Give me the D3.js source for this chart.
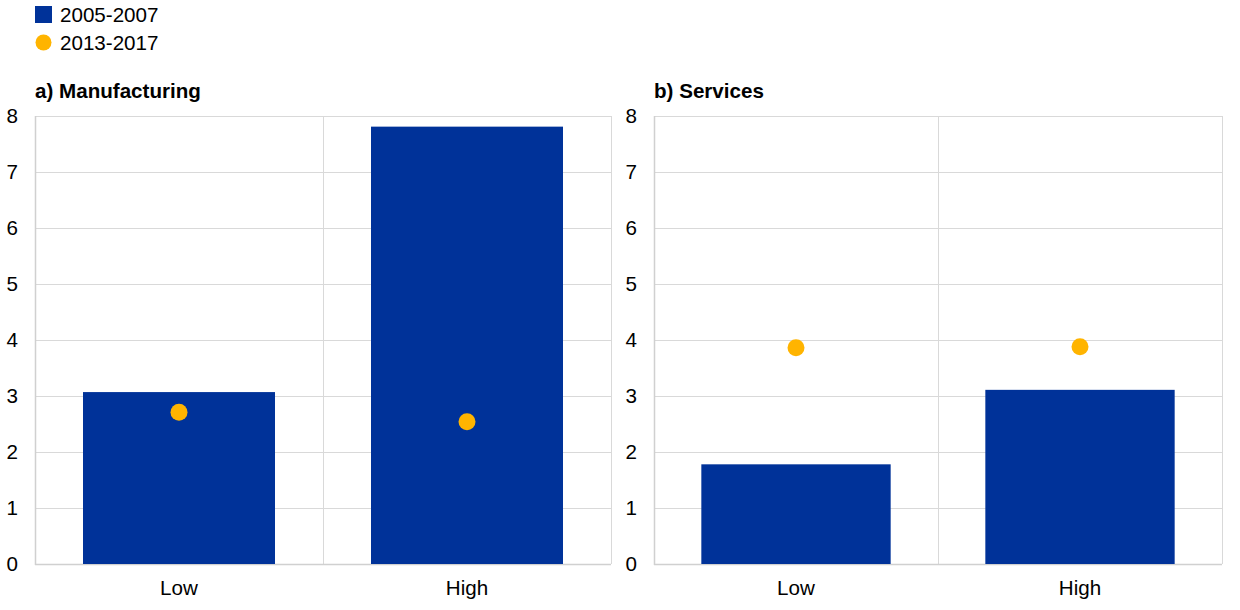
<!DOCTYPE html>
<html><head><meta charset="utf-8">
<script src="https://cdn.jsdelivr.net/npm/d3@7"></script>
<style>body{margin:0;background:#fff}svg{display:block;font-family:"Liberation Sans",Arial,sans-serif}</style>
</head><body><svg id="c" width="1240" height="610"></svg>
<script>
const categories = ["Low", "High"];
const seriesNames = ["2005-2007", "2013-2017"];
const panelTitles = ["a) Manufacturing", "b) Services"];
const manufacturingBars = [3.07, 7.81];
const manufacturingDots = [2.71, 2.54];
const servicesBars = [1.78, 3.11];
const servicesDots = [3.86, 3.88];
const yTicks = [0,1,2,3,4,5,6,7,8];

const BLUE = "#003299", YELLOW = "#FFB400", GRID = "#d9d9d9";
const FS = 20.6;
const svg = d3.select("#c");

// legend
const lg = svg.append("g");
lg.append("rect").attr("x",35).attr("y",6).attr("width",17).attr("height",17).attr("fill",BLUE);
lg.append("text").attr("x",60).attr("y",22).attr("font-size",FS).attr("fill","#000").text(seriesNames[0]);
lg.append("circle").attr("cx",43.5).attr("cy",42.5).attr("r",8).attr("fill",YELLOW);
lg.append("text").attr("x",60).attr("y",50).attr("font-size",FS).attr("fill","#000").text(seriesNames[1]);

const panels = [
  {title: panelTitles[0], bars: manufacturingBars, dots: manufacturingDots, x0: 35, x1: 611},
  {title: panelTitles[1], bars: servicesBars, dots: servicesDots, x0: 654, x1: 1222}
];
const yTop = 116, yBot = 564;

panels.forEach(p => {
  const g = svg.append("g");
  const x = d3.scaleBand().domain(categories).range([p.x0, p.x1]).paddingInner(1/3).paddingOuter(1/6);
  const y = d3.scaleLinear().domain([0, 8]).range([yBot, yTop]);
  const step = x.step();

  // title
  g.append("text").attr("x", p.x0).attr("y", 98).attr("font-size", FS).attr("font-weight","bold").text(p.title);

  // horizontal grid
  g.selectAll(".hg").data(yTicks).enter().append("line")
    .attr("x1", p.x0).attr("x2", p.x1).attr("y1", d => y(d)+0.5).attr("y2", d => y(d)+0.5)
    .attr("stroke", GRID).attr("stroke-width", 1);
  // vertical separators
  const vx = [p.x0, p.x0 + step, p.x1];
  g.selectAll(".vg").data(vx).enter().append("line")
    .attr("x1", d => Math.round(d)+0.5).attr("x2", d => Math.round(d)+0.5).attr("y1", yTop).attr("y2", yBot)
    .attr("stroke", GRID).attr("stroke-width", 1);
  // axis frame left & bottom
  g.append("line").attr("x1", p.x0+0.5).attr("x2", p.x0+0.5).attr("y1", yTop).attr("y2", yBot+1).attr("stroke","#d0d0d0").attr("stroke-width",1.5);
  g.append("line").attr("x1", p.x0).attr("x2", p.x1).attr("y1", yBot+0.5).attr("y2", yBot+0.5).attr("stroke","#d0d0d0").attr("stroke-width",1.5);

  // y axis labels
  const yAxis = d3.axisLeft(y).tickValues(yTicks).tickSize(0).tickPadding(17).tickFormat(d3.format("d"));
  const ya = g.append("g").attr("transform", `translate(${p.x0},0)`).call(yAxis);
  ya.select(".domain").remove();
  ya.selectAll("text").attr("font-size", FS).attr("fill","#000").attr("font-family", '"Liberation Sans",Arial,sans-serif');

  // x axis labels
  const xAxis = d3.axisBottom(x).tickSize(0).tickPadding(16);
  const xa = g.append("g").attr("transform", `translate(0,${yBot})`).call(xAxis);
  xa.select(".domain").remove();
  xa.selectAll("text").attr("font-size", FS).attr("fill","#000").attr("font-family", '"Liberation Sans",Arial,sans-serif');

  // bars
  g.selectAll(".bar").data(p.bars).enter().append("rect")
    .attr("x", (d,i) => x(categories[i])).attr("width", x.bandwidth())
    .attr("y", d => y(d)).attr("height", d => yBot - y(d)).attr("fill", BLUE);
  // dots
  g.selectAll(".dot").data(p.dots).enter().append("circle")
    .attr("cx", (d,i) => x(categories[i]) + x.bandwidth()/2).attr("cy", d => y(d))
    .attr("r", 8.5).attr("fill", YELLOW);
});
</script></body></html>
